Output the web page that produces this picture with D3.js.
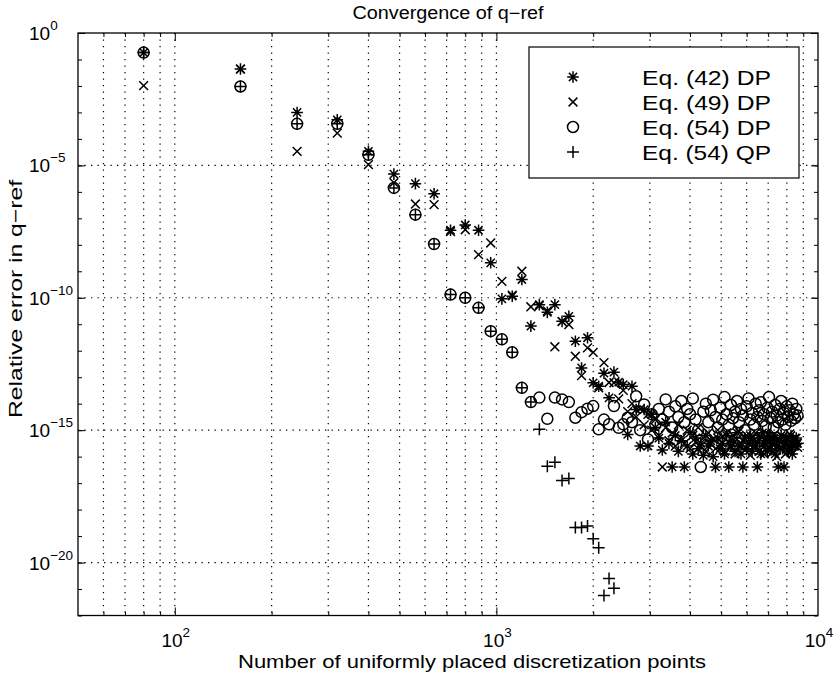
<!DOCTYPE html>
<html>
<head>
<meta charset="utf-8">
<script src="https://cdn.jsdelivr.net/npm/d3@7"></script>
<style>
  body { margin: 0; background: #fff; }
  svg { font-family: "Liberation Sans", Arial, Helvetica, sans-serif; }
  .grid line { stroke: #000; stroke-width: 1.2; stroke-dasharray: 1.3, 5.2; }
  .tick line { stroke: #000; }
  .mark { fill: none; stroke: #000; stroke-width: 1.5; }
</style>
</head>
<body>
<div id="chart"></div>
<script>
// number of uniformly placed discretization points (x values)
var nPoints = [80, 160, 240, 320, 400, 480, 560, 640, 720, 800,
  880, 960, 1040, 1120, 1200, 1280, 1360, 1440, 1520, 1600,
  1680, 1760, 1840, 1920, 2000, 2080, 2160, 2240, 2320, 2400,
  2480, 2560, 2640, 2720, 2800, 2880, 2960, 3040, 3120, 3200,
  3280, 3360, 3440, 3520, 3600, 3680, 3760, 3840, 3920, 4000,
  4080, 4160, 4240, 4320, 4400, 4480, 4560, 4640, 4720, 4800,
  4880, 4960, 5040, 5120, 5200, 5280, 5360, 5440, 5520, 5600,
  5680, 5760, 5840, 5920, 6000, 6080, 6160, 6240, 6320, 6400,
  6480, 6560, 6640, 6720, 6800, 6880, 6960, 7040, 7120, 7200,
  7280, 7360, 7440, 7520, 7600, 7680, 7760, 7840, 7920, 8000,
  8080, 8160, 8240, 8320, 8400, 8480, 8560, 8640];

// relative error, stored as log10 exponents
var eq42DP = [-0.74, -1.36, -3.00, -3.28, -4.47, -5.33, -5.69, -6.07, -7.45, -7.25,
  -7.45, -8.68, -10.04, -9.94, -9.31, -11.07, -10.26, -10.55, -10.26, -10.89,
  -10.70, -11.64, -12.65, -11.51, -13.21, -13.34, -12.85, -13.78, -12.81, -13.19,
  -13.28, -15.16, -13.34, -14.22, -15.60, -14.22, -15.60, -14.40, -14.90, -15.30,
  -15.75, -14.70, -15.50, -16.39, -15.20, -15.80, -15.40, -16.39, -15.60, -15.10,
  -15.90, -15.30, -15.70, -15.50, -15.95, -15.20, -15.60, -15.40, -16.00, -16.39,
  -15.30, -15.70, -15.50, -15.90, -15.20, -16.39, -15.60, -15.40, -15.80, -15.10,
  -15.60, -15.90, -16.39, -15.30, -15.70, -15.50, -15.20, -15.80, -15.40, -15.60,
  -16.39, -15.30, -15.90, -15.10, -15.60, -15.40, -15.80, -15.20, -15.70, -15.50,
  -15.30, -15.90, -15.60, -16.39, -15.40, -15.20, -15.70, -16.39, -15.50, -15.30,
  -15.80, -15.60, -15.20, -15.90, -15.40, -15.60, -15.30, -15.50];

var eq49DP = [-1.99, -1.36, -4.47, -3.78, -4.97, -5.65, -6.46, -6.48, -7.50, -7.43,
  -8.37, -7.93, -9.38, -9.90, -9.00, -10.34, -10.30, -10.50, -11.85, -10.90,
  -11.01, -12.21, -12.94, -11.89, -12.06, -13.40, -12.45, -13.20, -13.21, -13.82,
  -13.50, -14.30, -14.00, -14.50, -14.20, -14.80, -14.40, -15.00, -14.60, -15.20,
  -16.39, -14.90, -15.40, -15.10, -15.60, -14.80, -15.30, -15.50, -15.00, -15.70,
  -15.20, -15.45, -14.90, -15.60, -15.30, -15.80, -15.10, -15.50, -15.35, -15.70,
  -15.00, -15.55, -15.25, -15.80, -15.10, -15.45, -15.65, -15.20, -15.90, -15.35,
  -15.05, -15.60, -15.40, -15.75, -15.20, -15.50, -15.95, -15.30, -15.60, -15.10,
  -15.45, -15.80, -15.25, -15.55, -15.90, -15.35, -15.15, -15.65, -15.40, -15.85,
  -15.20, -15.50, -16.00, -15.30, -15.70, -15.45, -15.25, -15.60, -15.90, -15.35,
  -15.55, -15.15, -15.75, -15.40, -15.60, -15.30, -15.50, -15.65];

var eq54DP = [-0.74, -2.02, -3.43, -3.43, -4.60, -5.85, -6.86, -7.97, -9.88, -10.00,
  -10.38, -11.26, -11.57, -12.06, -13.40, -13.94, -13.77, -14.57, -13.77, -13.84,
  -13.94, -14.53, -14.32, -14.19, -14.09, -14.97, -14.60, -14.78, -14.09, -14.91,
  -14.78, -14.53, -14.70, -13.72, -15.00, -14.03, -15.35, -14.40, -14.80, -14.20,
  -14.60, -13.84, -14.30, -14.90, -14.10, -14.50, -13.90, -14.70, -14.20, -14.40,
  -13.80, -14.60, -15.00, -16.39, -14.30, -14.00, -14.70, -14.25, -13.85, -14.50,
  -14.90, -14.15, -14.60, -13.75, -14.40, -14.80, -14.05, -14.55, -14.30, -13.90,
  -14.70, -14.20, -14.45, -15.00, -14.10, -13.80, -14.60, -14.35, -14.80, -14.00,
  -14.50, -14.25, -13.95, -14.65, -14.40, -14.85, -14.15, -13.75, -14.55, -14.30,
  -14.90, -14.05, -14.45, -14.70, -14.20, -13.90, -14.60, -14.35, -14.80, -14.10,
  -14.50, -14.25, -14.65, -14.00, -14.40, -14.55, -14.20, -14.45];

var qpPoints = [80, 160, 240, 320, 400, 480, 560, 640, 720, 800,
  880, 960, 1040, 1120, 1200, 1280, 1360, 1440, 1520, 1600,
  1680, 1760, 1840, 1920, 2000, 2080, 2160, 2240, 2320];
var eq54QP = [-0.74, -2.02, -3.43, -3.43, -4.60, -5.85, -6.86, -7.97, -9.88, -10.00,
  -10.38, -11.26, -11.57, -12.06, -13.40, -13.94, -14.97, -16.36, -16.21, -16.90,
  -16.83, -18.68, -18.68, -18.62, -19.10, -19.44, -21.24, -20.60, -20.97];

var seriesNames = ["Eq. (42) DP", "Eq. (49) DP", "Eq. (54) DP", "Eq. (54) QP"];
var seriesMarkers = ["asterisk", "times", "circle", "plus"];

var xLabelExps = [2, 3, 4];
var yLabelExps = [0, -5, -10, -15, -20];

var titleText = "Convergence of q\u2212ref";
var xAxisText = "Number of uniformly placed discretization points";
var yAxisText = "Relative error in q\u2212ref";

// ---------------------------------------------------------------
var svgWidth = 840;
var svgHeight = 677;
var margin = { top: 33, right: 22, bottom: 61.5, left: 78 };
var width = svgWidth - margin.left - margin.right;
var height = svgHeight - margin.top - margin.bottom;

var svg = d3.select("#chart")
  .append("svg")
  .attr("width", svgWidth)
  .attr("height", svgHeight);

var chartGroup = svg.append("g")
  .attr("transform", `translate(${margin.left}, ${margin.top})`);

var x = d3.scaleLog().domain([50, 10000]).range([0, width]);
var y = d3.scaleLog().domain([1e-22, 1]).range([height, 0]);

var xGridVals = x.ticks().filter(v => v > 50 && v < 10000);
var xMajorVals = xLabelExps.map(e => Math.pow(10, e));
var yDecades = d3.range(-22, 1).map(e => Math.pow(10, e));
var yMajorVals = yLabelExps.map(e => Math.pow(10, e));

// dotted grid
chartGroup.append("g").attr("class", "grid")
  .selectAll("line").data(xGridVals).enter().append("line")
  .attr("x1", d => x(d)).attr("x2", d => x(d))
  .attr("y1", 0).attr("y2", height);

chartGroup.append("g").attr("class", "grid")
  .selectAll("line").data(yMajorVals.filter(v => v < 1)).enter().append("line")
  .attr("y1", d => y(d)).attr("y2", d => y(d))
  .attr("x1", 0).attr("x2", width);

// inward ticks, matlab style
function ticks(axisFn, scale, vals, size, transform) {
  var g = chartGroup.append("g")
    .attr("transform", transform)
    .call(axisFn(scale).tickValues(vals).tickSize(size).tickFormat(""));
  g.select(".domain").remove();
  return g;
}
var xMinor = xGridVals.filter(v => xMajorVals.indexOf(v) < 0);
ticks(d3.axisBottom, x, xMinor, -4, `translate(0, ${height})`);
ticks(d3.axisBottom, x, xMajorVals.filter(v => v < 10000), -8, `translate(0, ${height})`);
ticks(d3.axisTop, x, xMinor, -4, "translate(0, 0)");
ticks(d3.axisTop, x, xMajorVals.filter(v => v < 10000), -8, "translate(0, 0)");
ticks(d3.axisLeft, y, yDecades, -4, "translate(0, 0)");
ticks(d3.axisLeft, y, yMajorVals, -7, "translate(0, 0)");
ticks(d3.axisRight, y, yDecades, -4, `translate(${width}, 0)`);
ticks(d3.axisRight, y, yMajorVals, -7, `translate(${width}, 0)`);

// frame
chartGroup.append("rect")
  .attr("x", 0).attr("y", 0)
  .attr("width", width).attr("height", height)
  .attr("fill", "none").attr("stroke", "#000").attr("stroke-width", 1.3);

// tick labels
var xLab = chartGroup.append("g").selectAll("text")
  .data(xLabelExps).enter().append("text")
  .attr("x", d => x(Math.pow(10, d)) + 1)
  .attr("y", height + 31.5)
  .attr("text-anchor", "middle")
  .attr("font-size", 19);
xLab.append("tspan").text("10");
xLab.append("tspan").attr("dy", -10).attr("font-size", 13.5).text(d => String(d).replace("-", "\u2212"));

var yLab = chartGroup.append("g").selectAll("text")
  .data(yLabelExps).enter().append("text")
  .attr("x", 29 - margin.left)
  .attr("y", d => y(Math.pow(10, d)) + 7)
  .attr("font-size", 19);
yLab.append("tspan").text("10");
yLab.append("tspan").attr("dy", -10).attr("font-size", 13.5).text(d => String(d).replace("-", "\u2212"));

// markers
function markerPath(type) {
  if (type === "asterisk") {
    var r = 5.8, q = r * 0.7071;
    return `M${-r},0H${r}M0,${-r}V${r}M${-q},${-q}L${q},${q}M${-q},${q}L${q},${-q}`;
  }
  if (type === "times") {
    var t = 4.4;
    return `M${-t},${-t}L${t},${t}M${-t},${t}L${t},${-t}`;
  }
  if (type === "plus") {
    var p = 6;
    return `M${-p},0H${p}M0,${-p}V${p}`;
  }
  return null;
}

function drawSeries(xs, exps, type) {
  var data = exps.map((e, i) => ({ n: xs[i], v: Math.pow(10, e) }));
  var g = chartGroup.append("g");
  if (type === "circle") {
    g.selectAll("circle").data(data).enter().append("circle")
      .attr("class", "mark")
      .attr("cx", d => x(d.n))
      .attr("cy", d => y(d.v))
      .attr("r", 5.5);
  } else {
    g.selectAll("path").data(data).enter().append("path")
      .attr("class", "mark")
      .attr("stroke-width", type === "asterisk" ? 1.9 : 1.5)
      .attr("transform", d => `translate(${x(d.n)}, ${y(d.v)})`)
      .attr("d", markerPath(type));
  }
}

drawSeries(nPoints, eq42DP, "asterisk");
drawSeries(nPoints, eq49DP, "times");
drawSeries(nPoints, eq54DP, "circle");
drawSeries(qpPoints, eq54QP, "plus");

// legend
var legend = svg.append("g").attr("transform", "translate(529, 47)");
legend.append("rect")
  .attr("width", 270).attr("height", 131)
  .attr("fill", "#fff").attr("stroke", "#000").attr("stroke-width", 1.2);

var legendRows = legend.selectAll(".row")
  .data(seriesNames).enter().append("g")
  .attr("class", "row")
  .attr("transform", (d, i) => `translate(0, ${38 + i * 25})`);

legendRows.each(function(d, i) {
  var row = d3.select(this);
  var type = seriesMarkers[i];
  if (type === "circle") {
    row.append("circle").attr("class", "mark").attr("cx", 44).attr("cy", -8).attr("r", 5.5);
  } else {
    row.append("path").attr("class", "mark")
      .attr("stroke-width", type === "asterisk" ? 1.9 : 1.5)
      .attr("transform", "translate(44, -8)")
      .attr("d", markerPath(type));
  }
  row.append("text")
    .attr("x", 113)
    .attr("font-size", 21)
    .attr("textLength", 129)
    .attr("lengthAdjust", "spacingAndGlyphs")
    .text(d);
});

// titles
svg.append("text")
  .attr("x", 448).attr("y", 19)
  .attr("text-anchor", "middle")
  .attr("font-size", 17.5)
  .attr("textLength", 191)
  .attr("lengthAdjust", "spacingAndGlyphs")
  .text(titleText);

svg.append("text")
  .attr("x", 238).attr("y", 668)
  .attr("font-size", 18.5)
  .attr("textLength", 468)
  .attr("lengthAdjust", "spacingAndGlyphs")
  .text(xAxisText);

svg.append("text")
  .attr("transform", "translate(22, 418) rotate(-90)")
  .attr("font-size", 18.5)
  .attr("textLength", 238)
  .attr("lengthAdjust", "spacingAndGlyphs")
  .text(yAxisText);
</script>
</body>
</html>
